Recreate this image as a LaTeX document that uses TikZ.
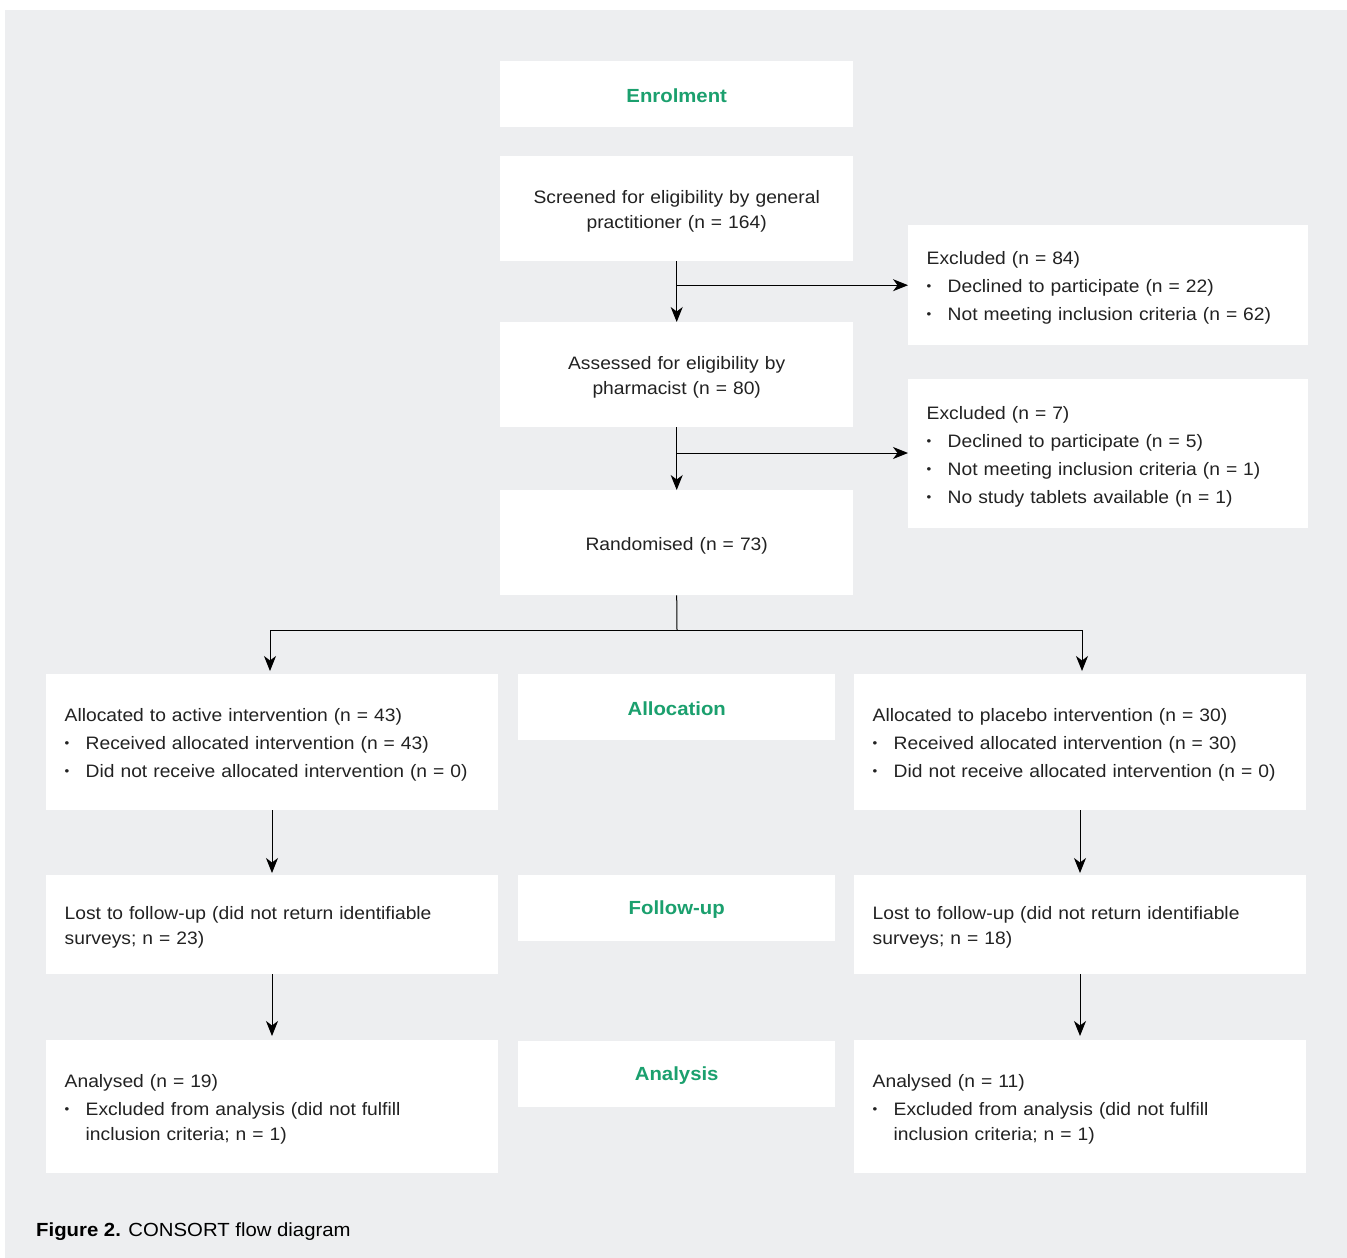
\documentclass[tikz,border=0pt]{standalone}
\usepackage{fontspec}
\setmainfont{Liberation Sans}[FakeStretch=1.07]
\usetikzlibrary{arrows.meta}
\definecolor{panelgray}{HTML}{EDEEF0}
\definecolor{hdgreen}{HTML}{1BA06E}
\definecolor{txt}{HTML}{222222}
\newcommand\bul{\makebox[21pt][l]{\raisebox{0.2ex}{\scalebox{0.7}{\textbullet}}}}
\newcommand\cont{\hspace*{21pt}}
\newcommand\lowerstrut{\rule{0pt}{19pt}}
\begin{document}
\begin{tikzpicture}[x=1pt,y=-1pt,
  font=\fontsize{18}{25}\selectfont\color{txt},
  boxbase/.style={fill=white, draw=none, anchor=north west, inner ysep=0pt},
  midbox/.style={boxbase, minimum width=353, text width=333, align=center, inner xsep=10pt,
    execute at begin node=\lowerstrut},
  sidebox/.style={boxbase, align=left, inner xsep=18.5pt,
    execute at begin node=\lowerstrut},
  headbox/.style={boxbase, minimum width=317, minimum height=66, align=center,
    font=\fontsize{19}{25}\selectfont\bfseries\color{hdgreen},
    execute at begin node={\rule{0pt}{17pt}}},
  arr/.style={draw=black, line width=1pt, -{Stealth[length=15pt,width=12pt,inset=4.5pt]}},
  ln/.style={draw=black, line width=1pt}]
\useasboundingbox (0,0) rectangle (1347,1258);
\fill[white] (0,0) rectangle (1347,1258);
\fill[panelgray] (5,10) rectangle (1347,1258);

% centre column
\node[headbox, minimum width=353] (enrol) at (500,61) {Enrolment};
\node[midbox, minimum height=105] (screen) at (500,156)
  {Screened for eligibility by general\\practitioner (n = 164)};
\node[midbox, minimum height=105] (assess) at (500,322)
  {Assessed for eligibility by\\pharmacist (n = 80)};
\node[midbox, minimum height=105] (rand) at (500,490)
  {Randomised (n = 73)};

% exclusions
\node[sidebox, minimum width=400, minimum height=120, text width=363] (exc1) at (908,225)
  {Excluded (n = 84)\\[3pt]
   \bul Declined to participate (n = 22)\\[3pt]
   \bul Not meeting inclusion criteria (n = 62)};
\node[sidebox, minimum width=400, minimum height=149, text width=363] (exc2) at (908,379)
  {Excluded (n = 7)\\[3pt]
   \bul Declined to participate (n = 5)\\[3pt]
   \bul Not meeting inclusion criteria (n = 1)\\[3pt]
   \bul No study tablets available (n = 1)};

% stage labels
\node[headbox] (alloc) at (518,674) {Allocation};
\node[headbox] (follow) at (518,875) {Follow-up};
\node[headbox] (analysis) at (518,1041) {Analysis};

% left arm
\node[sidebox, minimum width=452, minimum height=136, text width=415] (lalloc) at (46,674)
  {Allocated to active intervention (n = 43)\\[3pt]
   \bul Received allocated intervention (n = 43)\\[3pt]
   \bul Did not receive allocated intervention (n = 0)};
\node[sidebox, minimum width=452, minimum height=99, text width=415] (llost) at (46,875)
  {Lost to follow-up (did not return identifiable\\surveys; n = 23)};
\node[sidebox, minimum width=452, minimum height=133, text width=415] (lanal) at (46,1040)
  {Analysed (n = 19)\\[3pt]
   \bul Excluded from analysis (did not fulfill\\
   \cont inclusion criteria; n = 1)};

% right arm
\node[sidebox, minimum width=452, minimum height=136, text width=415] (ralloc) at (854,674)
  {Allocated to placebo intervention (n = 30)\\[3pt]
   \bul Received allocated intervention (n = 30)\\[3pt]
   \bul Did not receive allocated intervention (n = 0)};
\node[sidebox, minimum width=452, minimum height=99, text width=415] (rlost) at (854,875)
  {Lost to follow-up (did not return identifiable\\surveys; n = 18)};
\node[sidebox, minimum width=452, minimum height=133, text width=415] (ranal) at (854,1040)
  {Analysed (n = 11)\\[3pt]
   \bul Excluded from analysis (did not fulfill\\
   \cont inclusion criteria; n = 1)};

% caption
\node[anchor=base west, inner sep=0pt, font=\fontsize{19}{22}\selectfont\color{black}] (cap) at (36,1236)
  {\textbf{Figure 2.} CONSORT flow diagram};

% connectors
\draw[arr] (screen.south) -- (assess.north);
\draw[arr] (screen.south |- exc1.west) -- (exc1.west);
\draw[arr] (assess.south) -- (rand.north);
\draw[arr] (assess.south |- 0,453) -- (exc2.west |- 0,453);
\coordinate (split) at (677,630);
\draw[ln] (rand.south) -- (split);
\draw[arr] (split) -| (270,671);
\draw[arr] (split) -| (1082,671);
\draw[arr] (lalloc.south -| 272,0) -- (272,873);
\draw[arr] (llost.south -| 272,0) -- (272,1036);
\draw[arr] (ralloc.south -| 1080,0) -- (1080,873);
\draw[arr] (rlost.south -| 1080,0) -- (1080,1036);
\end{tikzpicture}
\end{document}
